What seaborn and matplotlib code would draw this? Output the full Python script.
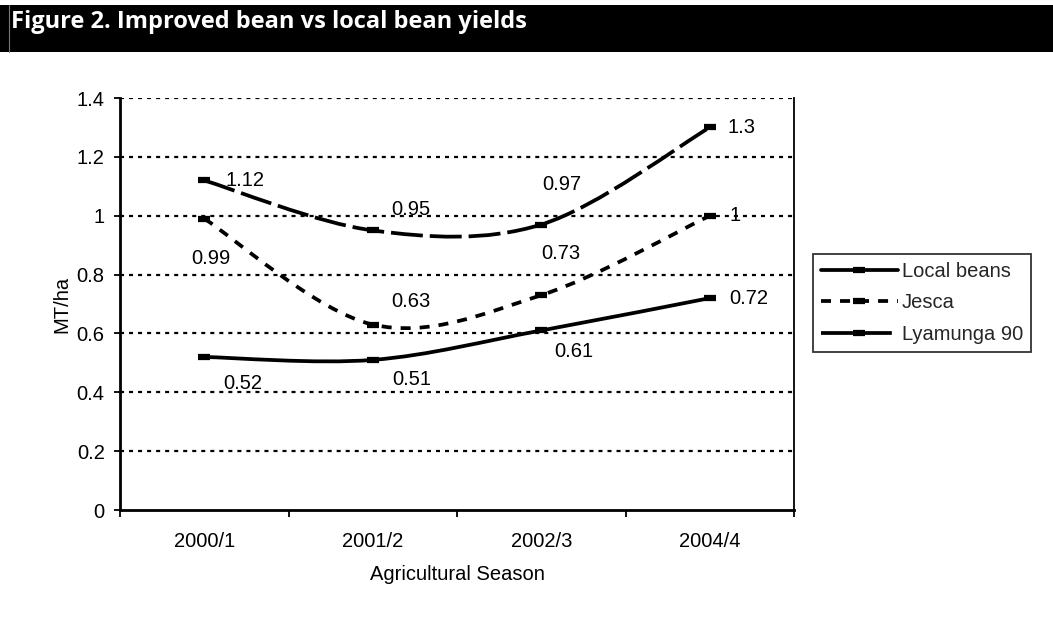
import matplotlib
matplotlib.use("Agg")
import matplotlib.pyplot as plt
from matplotlib.path import Path
from matplotlib.patches import PathPatch, Rectangle
from matplotlib.lines import Line2D
from matplotlib.ticker import FuncFormatter, FixedLocator
import pandas as pd
import seaborn as sns

seasons = ["2000/1", "2001/2", "2002/3", "2004/4"]
local_beans = [0.52, 0.51, 0.61, 0.72]
jesca = [0.99, 0.63, 0.73, 1.0]
lyamunga = [1.12, 0.95, 0.97, 1.3]
label_text = {
    "Local beans": ["0.52", "0.51", "0.61", "0.72"],
    "Jesca": ["0.99", "0.63", "0.73", "1"],
    "Lyamunga 90": ["1.12", "0.95", "0.97", "1.3"],
}

sns.set_theme(style="white")
plt.rcParams["font.family"] = ["Liberation Sans", "DejaVu Sans"]
plt.rcParams["lines.scale_dashes"] = False
FS = 14.5

df = pd.concat([
    pd.DataFrame({"season": seasons, "yield": local_beans, "variety": "Local beans"}),
    pd.DataFrame({"season": seasons, "yield": jesca, "variety": "Jesca"}),
    pd.DataFrame({"season": seasons, "yield": lyamunga, "variety": "Lyamunga 90"}),
])

styles = {
    "Local beans": "-",
    "Jesca": (0, (7.2, 6.5)),
    "Lyamunga 90": (0, (23, 5)),
}
# label offsets in pixels (dx, dy, ha)
offsets = {
    "Local beans": [(39, -27, "center"), (39, -20, "center"), (33, -21, "center"), (20, 0, "left")],
    "Jesca": [(7, -40, "center"), (38, 23, "center"), (20, 42, "center"), (20, 0, "left")],
    "Lyamunga 90": [(21, 0, "left"), (38, 21, "center"), (21, 40, "center"), (18, 0, "left")],
}

fig = plt.figure(figsize=(10.53, 6.36), dpi=100, facecolor="white")
ax = fig.add_axes([120 / 1053, 1 - 510 / 636, (794 - 120) / 1053, (510 - 98) / 636])

LW = 2.7


def smooth_path(ys):
    # Excel-style smoothed line (Catmull-Rom as cubic Bezier)
    pts = [(i, v) for i, v in enumerate(ys)]
    n = len(pts)
    verts = [pts[0]]
    codes = [Path.MOVETO]
    for i in range(n - 1):
        p0 = pts[max(i - 1, 0)]
        p1 = pts[i]
        p2 = pts[i + 1]
        p3 = pts[min(i + 2, n - 1)]
        c1 = (p1[0] + (p2[0] - p0[0]) / 6, p1[1] + (p2[1] - p0[1]) / 6)
        c2 = (p2[0] - (p3[0] - p1[0]) / 6, p2[1] - (p3[1] - p1[1]) / 6)
        verts += [c1, c2, p2]
        codes += [Path.CURVE4] * 3
    return Path(verts, codes)


for name, grp in df.groupby("variety", sort=False):
    ys = list(grp["yield"])
    patch = PathPatch(smooth_path(ys), transform=ax.transData, fill=False,
                      edgecolor="black", lw=LW, linestyle=styles[name],
                      capstyle="butt", zorder=3)
    ax.add_patch(patch)
    sns.lineplot(data=grp, x="season", y="yield", ax=ax, sort=False,
                 linestyle="", marker="_", markersize=9, markeredgewidth=4.5,
                 color="black", markeredgecolor="black", zorder=4)
    for i, (txt, (dx, dy, ha)) in enumerate(zip(label_text[name], offsets[name])):
        ax.annotate(txt, (i, ys[i]), xytext=(dx, dy), textcoords="offset pixels",
                    ha=ha, va="center", fontsize=FS, color="black", zorder=5)

ax.set_xlim(-0.5, 3.5)
ax.set_ylim(0, 1.4)
ax.set_yticks([0, 0.2, 0.4, 0.6, 0.8, 1.0, 1.2, 1.4])
ax.yaxis.set_major_formatter(FuncFormatter(lambda v, p: "%g" % round(v, 2)))
ax.set_xticks(range(len(seasons)))
ax.set_xticklabels(seasons)
ax.xaxis.set_minor_locator(FixedLocator([-0.5, 0.5, 1.5, 2.5, 3.5]))

ax.grid(False)
for y in [0.2, 0.4, 0.6, 0.8, 1.0, 1.2, 1.4]:
    ax.axhline(y, color="black", lw=1.6, linestyle=(0, (2.9, 3.6)), zorder=1)

for s in ["left", "bottom"]:
    ax.spines[s].set_color("black")
    ax.spines[s].set_linewidth(2.0)
ax.spines["right"].set_color("black")
ax.spines["right"].set_linewidth(1.3)
ax.spines["top"].set_visible(False)

ax.tick_params(axis="y", which="major", left=True, length=4, width=1.3,
               color="black", labelsize=FS, labelcolor="black", pad=7)
ax.tick_params(axis="x", which="major", bottom=False, length=0,
               labelsize=FS, labelcolor="black", pad=16)
ax.tick_params(axis="x", which="minor", bottom=True, length=5, width=1.3,
               color="black")

ax.set_xlabel("Agricultural Season", fontsize=FS, color="black", labelpad=10)
ax.set_ylabel("MT/ha", fontsize=FS, color="black", labelpad=4)

handles = [
    Line2D([], [], color="black", lw=LW, linestyle=styles[n], marker="_",
           markersize=9, markeredgewidth=4.5, dash_capstyle="butt")
    for n in ["Local beans", "Jesca", "Lyamunga 90"]
]
leg = fig.legend(handles, ["Local beans", "Jesca", "Lyamunga 90"],
                 loc="lower left", bbox_to_anchor=(813 / 1053, 1 - 352 / 636),
                 fontsize=FS, handlelength=3.8, handletextpad=0.2,
                 labelspacing=0.62, borderpad=0.4, fancybox=False,
                 frameon=True, borderaxespad=0)
leg.get_frame().set_edgecolor("black")
leg.get_frame().set_linewidth(1.3)

# title band
fig.patches.append(Rectangle((0, 1 - 52 / 636), 1, 47 / 636, transform=fig.transFigure,
                             facecolor="black", edgecolor="none", zorder=0))
fig.lines.append(Line2D([9 / 1053, 9 / 1053], [1 - 52 / 636, 1 - 5 / 636],
                        transform=fig.transFigure, color="#777777", lw=0.8))
fig.text(11 / 1053, 1 - 28 / 636, "Figure 2. Improved bean vs local bean yields",
         color="white", fontsize=17, fontweight="bold", va="baseline", ha="left",
         family=["Open Sans", "DejaVu Sans"])

fig.savefig("out.png", dpi=100, facecolor="white")
